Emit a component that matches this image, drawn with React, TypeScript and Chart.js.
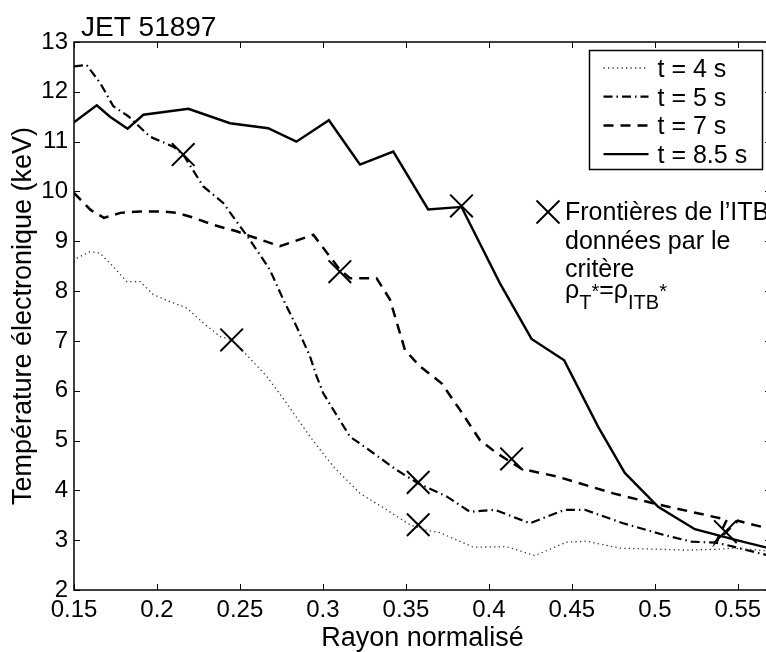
import React, { useEffect, useRef } from 'react';
import { Chart, registerables } from 'chart.js';

Chart.register(...registerables);

const FONT = '"Liberation Sans", Arial, Helvetica, sans-serif';

const chartTitle = 'JET 51897';
const xTitle = 'Rayon normalisé';
const yTitle = 'Température électronique (keV)';

const xTicks = [0.15, 0.2, 0.25, 0.3, 0.35, 0.4, 0.45, 0.5, 0.55];
const yTicks = [2, 3, 4, 5, 6, 7, 8, 9, 10, 11, 12, 13];

const seriesLabels = ['t = 4 s', 't = 5 s', 't = 7 s', 't = 8.5 s'];

// t = 4 s (dotted)
const xT4 = [0.15, 0.1516, 0.1596, 0.1657, 0.1737, 0.1817, 0.1898, 0.1978, 0.2078, 0.2179, 0.2279, 0.238, 0.245, 0.252, 0.2661, 0.2781, 0.2922, 0.3062, 0.3223, 0.3384, 0.3524, 0.3624, 0.3705, 0.3906, 0.4106, 0.4277, 0.4468, 0.4588, 0.4789, 0.5, 0.52, 0.539, 0.5472, 0.57];
const yT4 = [8.59, 8.66, 8.79, 8.76, 8.49, 8.19, 8.19, 7.93, 7.79, 7.66, 7.36, 7.09, 7.02, 6.79, 6.29, 5.75, 5.08, 4.48, 3.94, 3.61, 3.31, 3.2, 3.15, 2.86, 2.87, 2.69, 2.96, 2.98, 2.84, 2.82, 2.8, 2.82, 2.84, 2.78];

// t = 5 s (dash-dot)
const xT5 = [0.15, 0.1576, 0.1657, 0.1737, 0.1827, 0.1958, 0.2098, 0.2158, 0.2279, 0.2399, 0.2479, 0.256, 0.268, 0.2761, 0.2841, 0.2922, 0.2962, 0.3002, 0.3062, 0.3163, 0.3303, 0.3444, 0.3574, 0.3745, 0.3886, 0.4036, 0.4247, 0.4458, 0.4578, 0.4809, 0.505, 0.5221, 0.537, 0.5472, 0.57];
const yT5 = [12.51, 12.54, 12.18, 11.71, 11.51, 11.1, 10.9, 10.74, 10.1, 9.77, 9.4, 9.03, 8.43, 7.83, 7.29, 6.69, 6.29, 5.95, 5.62, 5.08, 4.75, 4.41, 4.14, 3.88, 3.57, 3.61, 3.34, 3.61, 3.61, 3.34, 3.11, 2.97, 2.95, 2.87, 2.68];

// t = 7 s (dashed)
const xT7 = [0.15, 0.16, 0.168, 0.178, 0.19, 0.2022, 0.2122, 0.2223, 0.2339, 0.248, 0.26, 0.2741, 0.2942, 0.3102, 0.3163, 0.3323, 0.3404, 0.3494, 0.3584, 0.3715, 0.3825, 0.3946, 0.4046, 0.4197, 0.4408, 0.4749, 0.499, 0.5434, 0.537, 0.55, 0.57];
const yT7 = [9.97, 9.63, 9.47, 9.57, 9.6, 9.6, 9.57, 9.47, 9.33, 9.2, 9.06, 8.9, 9.13, 8.43, 8.26, 8.26, 7.83, 6.82, 6.49, 6.15, 5.62, 5.01, 4.75, 4.43, 4.28, 3.94, 3.74, 3.41, 2.97, 3.39, 3.22];

// t = 8.5 s (solid)
const xT85 = [0.15, 0.1637, 0.1717, 0.1823, 0.1918, 0.2189, 0.244, 0.267, 0.284, 0.3036, 0.3223, 0.3424, 0.3634, 0.3835, 0.4066, 0.4257, 0.4454, 0.4658, 0.4819, 0.502, 0.5241, 0.5492, 0.57];
const yT85 = [11.39, 11.73, 11.5, 11.26, 11.54, 11.66, 11.37, 11.27, 11.0, 11.43, 10.54, 10.8, 9.64, 9.69, 8.16, 7.04, 6.61, 5.28, 4.35, 3.67, 3.22, 3.0, 2.83];

// ITB boundaries (crosses)
const xITB = [0.2158, 0.245, 0.3102, 0.3574, 0.3574, 0.3835, 0.4137, 0.5425];
const yITB = [10.74, 7.02, 8.39, 4.16, 3.31, 9.71, 4.63, 3.17];

const annotationLines = ['Frontières de l’ITB', 'données par le', 'critère'];

const zip = (xs: number[], ys: number[]) => xs.map((x, i) => ({ x, y: ys[i] }));

const framePlugin = {
  id: 'framePlugin',
  afterDraw(chart: any) {
    const { ctx, chartArea: a, scales } = chart;
    ctx.save();
    const line = (x1: number, y1: number, x2: number, y2: number) => {
      ctx.beginPath();
      ctx.moveTo(x1, y1);
      ctx.lineTo(x2, y2);
      ctx.stroke();
    };
    ctx.strokeStyle = '#000';
    ctx.setLineDash([]);
    ctx.lineWidth = 1.5;
    ctx.strokeRect(a.left, a.top, a.right - a.left, a.bottom - a.top);
    ctx.lineWidth = 1;
    const tl = 6;
    for (const v of xTicks) {
      const px = Math.round(scales.x.getPixelForValue(v)) + 0.5;
      line(px, a.bottom, px, a.bottom - tl);
      line(px, a.top, px, a.top + tl);
    }
    for (const v of yTicks) {
      const py = Math.round(scales.y.getPixelForValue(v)) + 0.5;
      line(a.left, py, a.left + tl, py);
      line(a.right, py, a.right - tl, py);
    }

    // title
    ctx.fillStyle = '#000';
    ctx.textAlign = 'left';
    ctx.textBaseline = 'alphabetic';
    ctx.font = `28px ${FONT}`;
    ctx.fillText(chartTitle, a.left + 7, a.top - 6);

    // legend
    const bx = a.right - 181.5;
    const by = a.top + 8.5;
    const bw = 173;
    const bh = 119;
    ctx.fillStyle = '#fff';
    ctx.fillRect(bx, by, bw, bh);
    ctx.lineWidth = 1.5;
    ctx.strokeStyle = '#000';
    ctx.strokeRect(bx, by, bw, bh);
    ctx.font = `25px ${FONT}`;
    ctx.fillStyle = '#000';
    const dsets = chart.data.datasets;
    for (let i = 0; i < seriesLabels.length; i++) {
      const base = by + 26.5 + i * 28.7;
      const ds = dsets[i];
      ctx.save();
      ctx.strokeStyle = ds.borderColor;
      ctx.lineWidth = ds.borderWidth;
      ctx.setLineDash(ds.borderDash || []);
      line(bx + 14, base - 9, bx + 59, base - 9);
      ctx.restore();
      ctx.fillText(seriesLabels[i], bx + 68, base);
    }

    // annotation
    const cx = a.right - 223;
    const cy = a.top + 170;
    const r = 11.5;
    ctx.lineWidth = 2;
    ctx.setLineDash([]);
    line(cx - r, cy - r, cx + r, cy + r);
    line(cx - r, cy + r, cx + r, cy - r);
    const tx = cx + 17;
    let ty = cy + 8;
    ctx.font = `25px ${FONT}`;
    for (const t of annotationLines) {
      ctx.fillText(t, tx, ty);
      ty += 28.6;
    }
    // rho_T* = rho_ITB*
    const baseY = ty - 8;
    let x = tx;
    const seg = (txt: string, size: number, dy: number) => {
      ctx.font = `${size}px ${FONT}`;
      ctx.fillText(txt, x, baseY + dy);
      x += ctx.measureText(txt).width;
    };
    seg('ρ', 25, 0);
    seg('T', 20, 11);
    seg('*', 20, 0);
    seg('=ρ', 25, 0);
    seg('ITB', 20, 11);
    seg('*', 20, 0);

    ctx.restore();
  },
};

export default function App() {
  const ref = useRef<HTMLCanvasElement | null>(null);
  useEffect(() => {
    if (!ref.current) return;
    const tickFont = { family: FONT, size: 24 };
    const chart = new Chart(ref.current, {
      type: 'line',
      data: {
        datasets: [
          {
            label: seriesLabels[0],
            data: zip(xT4, yT4),
            borderColor: '#333',
            borderWidth: 1.3,
            borderDash: [1.3, 3.2],
            pointRadius: 0,
            tension: 0,
            fill: false,
          },
          {
            label: seriesLabels[1],
            data: zip(xT5, yT5),
            borderColor: '#000',
            borderWidth: 2.2,
            borderDash: [9, 4, 1.5, 4],
            pointRadius: 0,
            tension: 0,
            fill: false,
          },
          {
            label: seriesLabels[2],
            data: zip(xT7, yT7),
            borderColor: '#000',
            borderWidth: 2.5,
            borderDash: [10, 7],
            pointRadius: 0,
            tension: 0,
            fill: false,
          },
          {
            label: seriesLabels[3],
            data: zip(xT85, yT85),
            borderColor: '#000',
            borderWidth: 2.4,
            borderDash: [],
            pointRadius: 0,
            tension: 0,
            fill: false,
          },
          {
            type: 'scatter',
            label: 'ITB',
            data: zip(xITB, yITB),
            showLine: false,
            pointStyle: 'crossRot',
            pointRadius: 16,
            pointBorderWidth: 2,
            pointBorderColor: '#000',
            borderColor: '#000',
            backgroundColor: 'transparent',
          } as any,
        ],
      },
      options: {
        animation: false,
        responsive: false,
        maintainAspectRatio: false,
        devicePixelRatio: 1,
        layout: { autoPadding: false, padding: { top: 42, right: 1, left: 0, bottom: 0 } },
        plugins: { legend: { display: false }, tooltip: { enabled: false }, title: { display: false } },
        scales: {
          x: {
            type: 'linear',
            min: 0.15,
            max: 0.57,
            afterBuildTicks: (s: any) => {
              s.ticks = xTicks.map((v) => ({ value: v }));
            },
            ticks: {
              color: '#000',
              font: tickFont,
              padding: 6,
              maxRotation: 0,
              autoSkip: false,
              callback: (v: any) => String(v),
            },
            grid: { display: false, drawTicks: false },
            border: { display: false },
            title: {
              display: true,
              text: xTitle,
              color: '#000',
              font: { family: FONT, size: 27, lineHeight: 1 },
              padding: { top: 0, bottom: 0 },
            },
            afterFit: (s: any) => {
              s.height = 62;
              s.paddingLeft = 0;
              s.paddingRight = 0;
            },
          },
          y: {
            type: 'linear',
            min: 2,
            max: 13,
            afterBuildTicks: (s: any) => {
              s.ticks = yTicks.map((v) => ({ value: v }));
            },
            ticks: {
              color: '#000',
              font: tickFont,
              padding: 6,
              autoSkip: false,
              callback: (v: any) => String(v),
            },
            grid: { display: false, drawTicks: false },
            border: { display: false },
            title: {
              display: true,
              text: yTitle,
              color: '#000',
              font: { family: FONT, size: 27, lineHeight: 1 },
              padding: { top: 10, bottom: 0 },
            },
            afterFit: (s: any) => {
              s.width = 74;
              s.paddingTop = 0;
              s.paddingBottom = 0;
            },
          },
        },
      },
      plugins: [framePlugin],
    } as any);
    return () => chart.destroy();
  }, []);

  return (
    <div style={{ position: 'absolute', left: 0, top: 0, width: 766, height: 652, overflow: 'hidden', background: '#fff' }}>
      <canvas ref={ref} width={772} height={652} style={{ width: 772, height: 652, display: 'block' }} />
    </div>
  );
}
